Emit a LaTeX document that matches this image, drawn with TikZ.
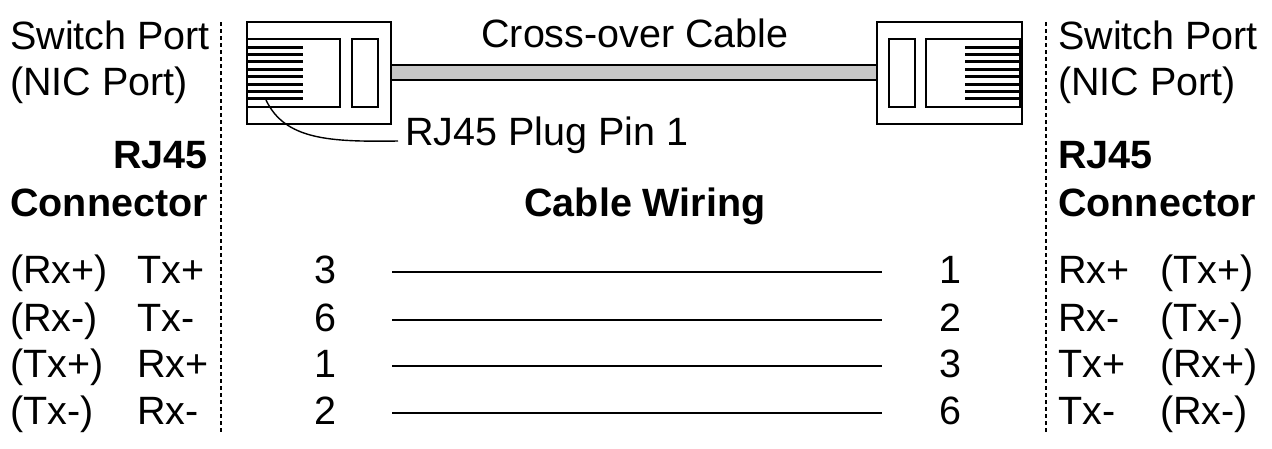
\documentclass[tikz,border=0pt]{standalone}
\usepackage{fontspec}
\setmainfont{Liberation Sans}
\begin{document}
\begin{tikzpicture}[x=1pt,y=-1pt,
  txt/.style={font=\fontsize{39.5}{42}\selectfont,inner sep=0pt,text height=0.72em,text depth=0.22em,yshift=-9pt},
  bold/.style={txt,font=\fontsize{39.5}{42}\selectfont\bfseries},
  ln/.style={line width=2.4pt},
  pinl/.style={line width=3pt},
  thin/.style={line width=1.4pt},
  dsh/.style={line width=1.2pt,dash pattern=on 4pt off 3pt}]
\useasboundingbox (0,0) rectangle (1272,448);
% dashed separators
\draw[dsh] (221,22) -- (221,432);
\draw[dsh] (1046,22) -- (1046,432);
% left plug
\draw[ln] (247,22) rectangle (391,124);
\draw[ln] (247,39) rectangle (340,107);
\draw[ln] (352,39) rectangle (378,107);
\foreach \i in {0,...,7} \draw[pinl] (247,{47+\i*7.4}) -- (303,{47+\i*7.4});
% right plug
\draw[ln] (877,22) rectangle (1022,124);
\draw[ln] (926,39) rectangle (1020,107);
\draw[ln] (889,39) rectangle (915,107);
\foreach \i in {0,...,7} \draw[pinl] (965,{47+\i*7.4}) -- (1020,{47+\i*7.4});
% cable
\draw[line width=1.6pt,fill=black!22] (391,65) rectangle (877,80);
\node[txt] (title) at (635,36) {Cross-over Cable};
% leader
\node[txt,anchor=west] (pin) at (405,134) {RJ45 Plug Pin 1};
\coordinate (pe) at (398,141);
\draw[thin] (266,100) .. controls (285,140) and (330,142) .. (pe);
% headers
\node[txt,anchor=west] (lsp) at (10,38) {Switch Port};
\node[txt,anchor=west] (lnic) at (10,84) {(NIC Port)};
\node[bold,anchor=east] (lrj) at (208,157) {RJ45};
\node[bold,anchor=east] (lcon) at (208,205) {Connector};
\node[txt,anchor=west] (rsp) at (1058,38) {Switch Port};
\node[txt,anchor=west] (rnic) at (1058,84) {(NIC Port)};
\node[bold,anchor=west] (rrj) at (1058,157) {RJ45};
\node[bold,anchor=west] (rcon) at (1058,205) {Connector};
\node[bold] (cw) at (645,205) {Cable Wiring};
% rows
\foreach \y/\a/\b/\l/\r/\c/\d [count=\k] in
 {272/(Rx+)/Tx+/3/1/Rx+/(Tx+), 320/(Rx-)/Tx-/6/2/Rx-/(Tx-),
  366/(Tx+)/Rx+/1/3/Tx+/(Rx+), 413/(Tx-)/Rx-/2/6/Tx-/(Rx-)} {
  \node[txt,anchor=west] at (10,\y) {\a};
  \node[txt,anchor=west] at (137,\y) {\b};
  \node[txt] (l\k) at (325,\y) {\l};
  \node[txt] (r\k) at (950,\y) {\r};
  \node[txt,anchor=west] at (1058,\y) {\c};
  \node[txt,anchor=west] at (1160,\y) {\d};
  \coordinate (a\k) at (392,\y);
  \coordinate (b\k) at (882,\y);
  \draw[line width=1.4pt] (a\k) -- (b\k);
}
\end{tikzpicture}
\end{document}
